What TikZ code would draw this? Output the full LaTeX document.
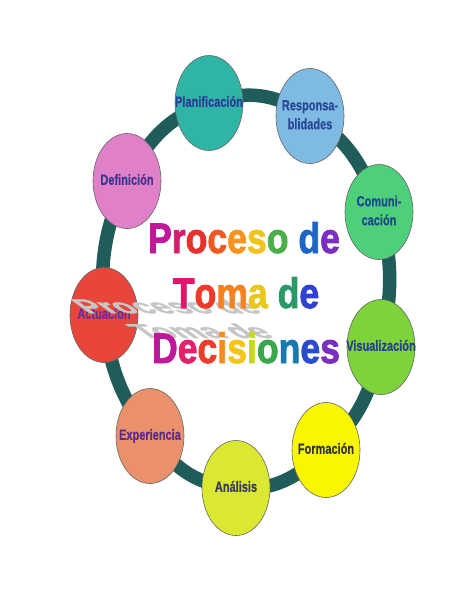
\documentclass[tikz,border=0pt]{standalone}
\usepackage{fontspec}
\setmainfont{Liberation Sans}
\newfontfamily\heavyfont{Liberation Sans}[FakeBold=2]
\newfontfamily\labfont{Liberation Sans}[FakeBold=0.6]
\usetikzlibrary{shapes.geometric,backgrounds}
\definecolor{ringc}{HTML}{1F5C5A}
\definecolor{shadc}{HTML}{C6C6C6}
\newcommand{\lbl}[1]{\makebox[0pt]{\scalebox{1}[1.35]{\begin{tabular}{@{}c@{}}#1\end{tabular}}}}
\newcommand{\ltr}[2]{\textcolor[HTML]{#1}{#2}}
\newcommand{\tallt}[1]{\scalebox{1}[1.2]{#1}}
\begin{document}
\begin{tikzpicture}[x=1pt,y=-1pt,
  bub/.style={ellipse, draw=black!60, line width=0.6pt, minimum width=68pt,
    minimum height=95pt, inner sep=0pt, font=\labfont\fontsize{11}{14}\selectfont\bfseries},
  ring/.style={draw=ringc, line width=13.5pt},
  title/.style={anchor=base, inner sep=0pt, font=\heavyfont\fontsize{35.6}{40}\selectfont\bfseries},
  shad/.style={title, text=shadc, transform shape}]
\useasboundingbox (0,0) rectangle (474,613);

\node[bub, fill={rgb,255:red,46;green,181;blue,166}, text={rgb,255:red,44;green,60;blue,150}] (pla) at (209,103) {\lbl{Planificación}};
\node[bub, fill={rgb,255:red,126;green,186;blue,226}, text={rgb,255:red,40;green,72;blue,150}] (res) at (310,116) {\lbl{Responsa-\\blidades}};
\node[bub, fill={rgb,255:red,78;green,208;blue,122}, text={rgb,255:red,30;green,70;blue,140}] (com) at (379,212) {\lbl{Comuni-\\cación}};
\node[bub, fill={rgb,255:red,126;green,210;blue,58}, text={rgb,255:red,42;green,62;blue,144}] (vis) at (381,347) {\lbl{Visualización}};
\node[bub, fill={rgb,255:red,248;green,246;blue,0}, text={rgb,255:red,50;green,50;blue,50}] (for) at (326,450) {\lbl{Formación}};
\node[bub, fill={rgb,255:red,218;green,232;blue,50}, text={rgb,255:red,56;green,58;blue,90}] (ana) at (236,488) {\lbl{Análisis}};
\node[bub, fill={rgb,255:red,234;green,144;blue,106}, text={rgb,255:red,90;green,44;blue,138}] (exp) at (150,436) {\lbl{Experiencia}};
\node[bub, fill={rgb,255:red,232;green,70;blue,58}, text={rgb,255:red,106;green,44;blue,160}] (act) at (104,315) {\lbl{Actuacion}};
\node[bub, fill={rgb,255:red,224;green,128;blue,200}, text={rgb,255:red,58;green,56;blue,142}] (def) at (127,181) {\lbl{Definición}};

\begin{pgfonlayer}{background}
\fill[white] (0,0) rectangle (474,613);
\draw[ring] plot[smooth cycle, tension=0.75] coordinates {(pla.center) (res.center) (com.center) (vis.center) (for.center) (ana.center) (exp.center) (act.center) (def.center)};
\end{pgfonlayer}

\begin{scope}[cm={0.92,0,-0.62,0.45,(210,338)}]
\node[shad] (s1) at (0,-55) {\scalebox{1}[1.25]{Proceso de}};
\node[shad] (s2) at (0,0) {\scalebox{1}[1.25]{Toma de}};
\end{scope}

\node[title] (t1) at (244,253) {\tallt{\ltr{C0189A}{P}\ltr{D61E6E}{r}\ltr{E8302C}{o}\ltr{F05A22}{c}\ltr{F7931E}{e}\ltr{F2C318}{s}\ltr{4CAF4A}{o} \ltr{1F66C4}{d}\ltr{7A2FC0}{e}}};
\node[title] (t2) at (246,308) {\tallt{\ltr{E0186C}{T}\ltr{EE3A2A}{o}\ltr{F58220}{m}\ltr{E8C81C}{a} \ltr{2A9A6A}{d}\ltr{3040D0}{e}}};
\node[title] (t3) at (246,363) {\tallt{\ltr{C0189A}{D}\ltr{E8206A}{e}\ltr{F03A2A}{c}\ltr{F78C1E}{i}\ltr{F5C518}{s}\ltr{C8D820}{i}\ltr{3AA84A}{o}\ltr{1A7AB0}{n}\ltr{2A4AD0}{e}\ltr{7A2FC0}{s}}};
\end{tikzpicture}
\end{document}
